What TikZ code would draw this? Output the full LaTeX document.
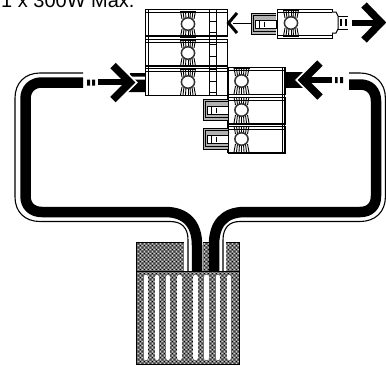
\documentclass[tikz,border=0pt]{standalone}
\usepackage{fontspec}
\setmainfont{Liberation Sans}
\usetikzlibrary{patterns}
\pgfdeclarepatternformonly{ditherdark}{\pgfqpoint{0pt}{0pt}}{\pgfqpoint{4pt}{4pt}}{\pgfqpoint{4pt}{4pt}}{%
  \pgfpathrectangle{\pgfqpoint{0pt}{0pt}}{\pgfqpoint{1.3pt}{1.3pt}}%
  \pgfpathrectangle{\pgfqpoint{2pt}{2pt}}{\pgfqpoint{1.3pt}{1.3pt}}%
  \pgfusepath{fill}}
\pgfdeclarepatternformonly{ditherlight}{\pgfqpoint{0pt}{0pt}}{\pgfqpoint{4pt}{4pt}}{\pgfqpoint{4pt}{4pt}}{%
  \pgfpathrectangle{\pgfqpoint{2pt}{0pt}}{\pgfqpoint{1.3pt}{1.3pt}}%
  \pgfpathrectangle{\pgfqpoint{0pt}{2pt}}{\pgfqpoint{1.3pt}{1.3pt}}%
  \pgfusepath{fill}}
\tikzset{
  x=1pt,y=-1pt,
  band/.style={line width=10.5pt,black},
  thinwire/.style={line width=1.1pt,black},
  outline/.style={line width=1pt,black},
  chevronw/.style={line width=11pt,white},
  chevron/.style={line width=7.5pt,black},
  shaft/.style={line width=5.5pt,black},
  stripe/.style={line width=4.3pt,white,line cap=round},
  terminal/.pic={
    \foreach \i in {-3,-2,-1,0,1,2,3}{
      \draw[line width=.9pt] (\i*2.5,-13) -- (\i*2,-5);
      \draw[line width=.9pt] (\i*2.5,13) -- (\i*2,5);}
    \draw[line width=.9pt] (-8,-13) -- (8,-13) (-8,13) -- (8,13);
    \draw[line width=1.5pt,draw=black!80,fill=white] (0,0) ellipse (6.6 and 6.2);
  },
  plugtip/.pic={
    \fill[black!30] (0,0) rectangle (25,21);
    \draw[outline] (25,0) -- (0,0) -- (0,21) -- (25,21);
    \draw[line width=.7pt] (25,2.5) -- (2.5,2.5) -- (2.5,18.5) -- (25,18.5);
    \draw[outline,fill=white] (4,7) rectangle (25,15);
    \draw[outline] (8,7) -- (8,15);
    \draw[line width=1.5pt] (13.5,8.5) -- (13.5,13.5);
  }
}
\begin{document}
\begin{tikzpicture}
\useasboundingbox (0,0) rectangle (386,365);
\begin{scope}
\clip (0,0) rectangle (386,365);
\node[anchor=base west,inner sep=0pt,font=\fontsize{20}{20}\selectfont] (caption) at (1,7) {1 x 300W Max.};
\end{scope}

% battery
\fill[black!58] (136,242) rectangle (239,364);
\fill[pattern=ditherdark,pattern color=black] (136,242) rectangle (239,364);
\fill[pattern=ditherlight,pattern color=white] (136,242) rectangle (239,364);
\draw[line width=1pt] (136,242) -- (136,364) -- (239,364) -- (239,242);
\fill[white] (184,241) rectangle (203,271) (209,241) rectangle (226,271);
\draw[line width=1pt] (136,242) -- (184,242) (203,242) -- (209,242) (226,242) -- (239,242);
\draw[line width=1pt] (136,271) -- (239,271);
\foreach \x in {146,157,168,179.5,195.5,206.5,218,229}
  \draw[stripe] (\x,277) -- (\x,358);

% cables
\draw[band] (83,82.5) -- (42,82.5) .. controls (32,82.5) and (25.5,89) .. (25.5,99) -- (25.5,196) .. controls (25.5,206) and (32,212) .. (42,212) -- (165,212) .. controls (186,212) and (197,224) .. (197,245) -- (197,271);
\draw[thinwire] (83,73) -- (40,73) .. controls (25,73) and (15,83) .. (15,98) -- (15,197) .. controls (15,212) and (25,221.5) .. (40,221.5) -- (170,221.5) .. controls (182,221.5) and (188,228) .. (188,240) -- (188,271);
\draw[band] (349,84.5) -- (360,84.5) .. controls (370,84.5) and (376,91) .. (376,101) -- (376,196) .. controls (376,206) and (370,212) .. (360,212) -- (245,212) .. controls (224,212) and (214,224) .. (214,245) -- (214,271);
\draw[thinwire] (349,73) -- (360,73) .. controls (375,73) and (385.4,83) .. (385.4,98) -- (385.4,197) .. controls (385.4,212) and (375,221.5) .. (360,221.5) -- (240,221.5) .. controls (229,221.5) and (223,228) .. (223,240) -- (223,271);

% connector stubs at the blocks
\fill[black] (130,73) rectangle (146,76.5) (126,79.5) rectangle (146,92);
\fill[black] (285,72) rectangle (303,88);

% left arrow
\fill[black] (87,79.5) rectangle (90,85.5) (92,79.5) rectangle (95,85.5);
\draw[chevronw] (113,65.5) -- (130,82.5) -- (113,99.5);
\draw[shaft] (98,82) -- (126,82);
\draw[chevron] (113,65.5) -- (130,82.5) -- (113,99.5);

% right arrow
\fill[black] (335,77) rectangle (337.5,83) (340,77) rectangle (343,83);
\draw[chevronw] (320,63) -- (303,80) -- (320,97);
\draw[shaft] (308,80) -- (332,80);
\draw[chevron] (320,63) -- (303,80) -- (320,97);

% top block column
\foreach \y in {9.5,39.5,68.5}{
  \draw[outline,fill=white] (145,\y) rectangle (227,\y+27);
  \draw[outline] (145,\y+3) -- (227,\y+3);
}
\draw[outline] (145,95.5) -- (227,95.5);
\draw[line width=1.6pt] (145.5,9.5) -- (145.5,95.5);
\draw[outline] (148,9.5) -- (148,95.5);
\foreach \y in {35.5,66}
  \draw[line width=1.6pt] (145,\y) -- (227,\y);
\foreach \y in {24,53,82}
  \pic at (188,\y) {terminal};
\draw[line width=1.4pt] (209.5,9.5) -- (209.5,95.5);
\draw[outline] (216.5,9.5) -- (216.5,95.5);
\foreach \y in {21,32,44,56,69,81,92}
  \draw[outline] (209.5,\y) -- (216.5,\y);

% lower block column
\foreach \y in {67,97,126}{
  \draw[outline,fill=white] (228,\y) rectangle (285,\y+27);
  \draw[outline] (228,\y+3) -- (285,\y+3);
}
\draw[line width=1.6pt] (228,94.5) -- (285,94.5) (228,123.5) -- (285,123.5);
\draw[line width=1.6pt] (228,153) -- (285,153);
\draw[line width=1.6pt] (228,67) -- (228,153) (284.5,67) -- (284.5,153);
\draw[outline] (282,67) -- (282,153);
\foreach \y in {81,110,139}
  \pic at (241.5,\y) {terminal};
\pic at (203,99) {plugtip};
\pic at (203,128) {plugtip};

% top plug
\draw[outline,fill=white] (277,9) rectangle (332,38);
\draw[outline] (277,12) -- (332,12) (277,35.5) -- (332,35.5);
\pic at (291,23) {terminal};
\pic at (251,13) {plugtip};
\draw[outline,fill=white] (332,12) -- (336,12) -- (338,16) -- (338,29) -- (336,33) -- (332,33);
\draw[outline] (338,16) -- (348,16) (338,29) -- (348,29);
\draw[line width=2pt] (341,19) -- (341,26) (346,19) -- (346,26);
\draw[shaft,line width=6pt] (352,22.5) -- (380,22.5);
\draw[chevron] (364,5) -- (381,22.5) -- (364,40);

% small left arrow
\draw[line width=1pt] (233,23) -- (251,23);
\draw[line width=3pt] (237,13) -- (228.5,23) -- (237,33);
\end{tikzpicture}
\end{document}
